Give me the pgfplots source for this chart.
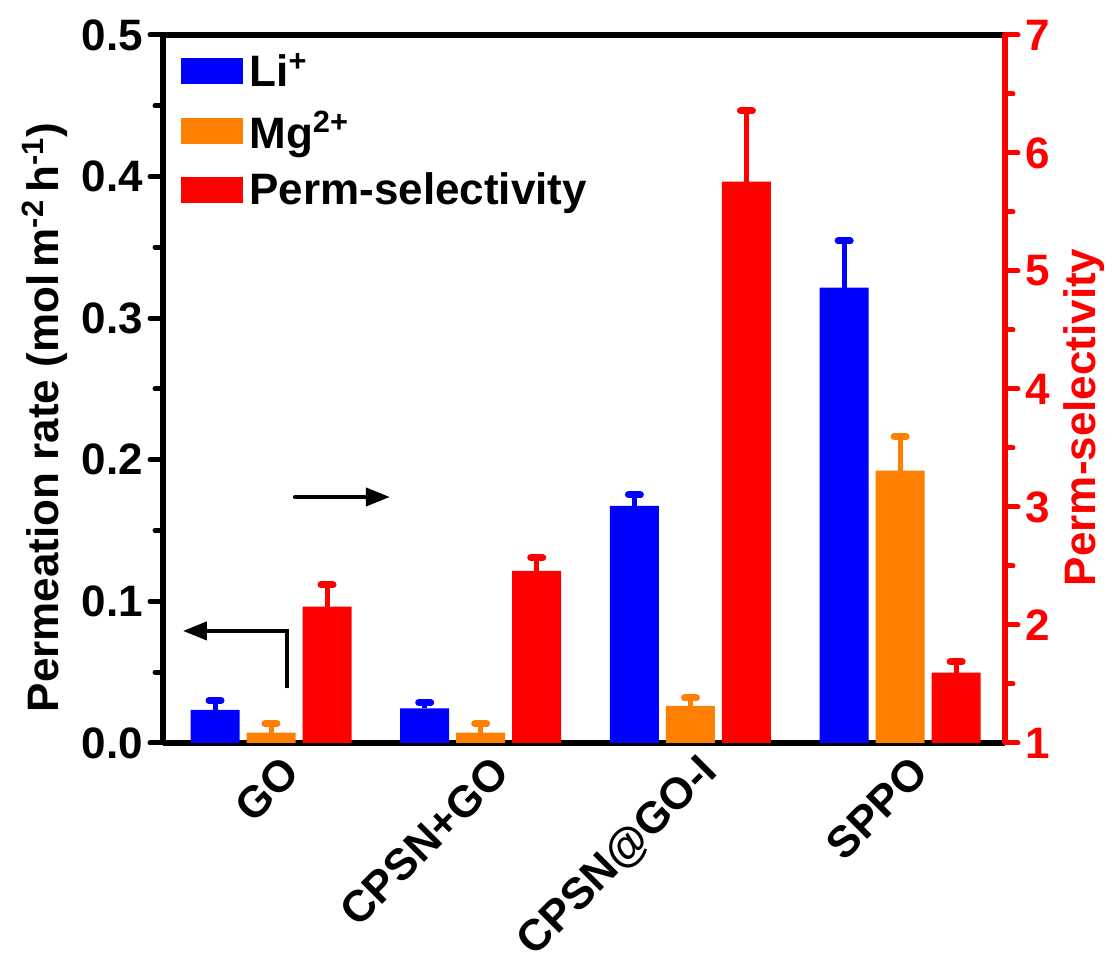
\documentclass[border=0pt]{standalone}
\usepackage{pgfplots}
\pgfplotsset{compat=1.18}
\usepackage{fontspec}
\setmainfont{Liberation Sans}
\usetikzlibrary{arrows.meta}
\definecolor{cblue}{RGB}{0,0,255}
\definecolor{corange}{RGB}{255,128,0}
\definecolor{cred}{RGB}{255,0,0}
\newcommand{\bigfont}{\fontsize{22}{26}\selectfont\bfseries}
\begin{document}
\begin{tikzpicture}
\pgfplotsset{
  common/.style={
    scale only axis, width=421pt, height=354pt,
    xmin=-0.515, xmax=3.5,
    ybar, bar width=24.5pt,
    tick align=outside,
    /pgf/number format/assume math mode=true,
    ticklabel style={font=\bigfont},
    label style={font=\bigfont},
    major tick length=6.5pt, minor tick length=4pt,
    every tick/.style={line width=2.5pt, line cap=round},
    minor y tick num=1,
    clip=false,
  },
  errb/.style={error bars/.cd, y dir=plus, y explicit,
    error bar style={draw=#1, line width=2.5pt},
    error mark options={rotate=90, draw=#1, line width=3.5pt, mark size=3pt, line cap=round}},
}
\begin{axis}[common,
  ymin=0, ymax=0.5,
  ytick={0,0.1,0.2,0.3,0.4,0.5},
  yticklabel style={/pgf/number format/.cd, fixed, fixed zerofill, precision=1},
  axis y line*=left, axis x line*=box,
  axis line style={line width=3pt, black},
  xtick={0,1,2,3},
  xticklabels={GO, CPSN+GO, CPSN@GO-I, SPPO},
  x tick style={draw=none},
  xticklabel style={xshift=12.5pt, yshift=-2pt, rotate=45, anchor=east},
  ylabel={Permeation rate (mol\,m\textsuperscript{-2}\,h\textsuperscript{-1})},
  ylabel style={at={(ticklabel cs:0.46)}},
  legend image code/.code={\fill[#1] (0pt,-6.5pt) rectangle (31pt,6.5pt);},
  legend style={draw=none, fill=none, at={(rel axis cs:0,1)}, anchor=north west,
    xshift=6pt, yshift=-4pt, font=\bigfont, row sep=5pt, nodes={inner sep=3pt}},
  legend cell align=left,
]
\addplot[fill=cblue, draw=none, bar shift=-28pt, errb=cblue]
  coordinates {(0,0.0233) +- (0,0.0067) (1,0.0245) +- (0,0.0040) (2,0.1674) +- (0,0.0078) (3,0.3215) +- (0,0.0330)};
\addlegendentry{Li\textsuperscript{+}}
\addplot[fill=corange, draw=none, bar shift=0pt, errb=corange]
  coordinates {(0,0.0073) +- (0,0.0061) (1,0.0073) +- (0,0.0061) (2,0.0261) +- (0,0.0057) (3,0.1923) +- (0,0.0240)};
\addlegendentry{Mg\textsuperscript{2+}}
\addlegendimage{fill=cred, draw=none}
\addlegendentry{Perm-selectivity}
\draw[line width=2pt, -{Triangle[length=12pt, width=9pt]}] (axis cs:0.076,0.0388) -- (axis cs:0.076,0.0791) -- (axis cs:-0.42,0.0791);
\draw[line width=2pt, line cap=round, -{Triangle[length=12pt, width=9pt]}] (axis cs:0.114,0.1737) -- (axis cs:0.567,0.1737);
\end{axis}
\begin{axis}[common,
  ymin=1, ymax=7,
  ytick={1,2,3,4,5,6,7},
  axis y line*=right, axis x line=none,
  xtick=\empty,
  y axis line style={line width=2.6pt, cred},
  y tick style={cred},
  yticklabel style={text=cred},
  ylabel={Perm-selectivity},
  ylabel style={text=cred, at={(ticklabel cs:0.46)}},
]
\addplot[fill=cred, draw=none, bar shift=28pt, errb=cred]
  coordinates {(0,2.155) +- (0,0.185) (1,2.458) +- (0,0.110) (2,5.757) +- (0,0.600) (3,1.596) +- (0,0.093)};
\coordinate (bbA) at (rel axis cs:-0.1936,-0.3008);
\coordinate (bbB) at (rel axis cs:1.1283,1.0494);
\end{axis}
\pgfresetboundingbox
\path[use as bounding box] (bbA) rectangle (bbB);
\end{tikzpicture}
\end{document}
